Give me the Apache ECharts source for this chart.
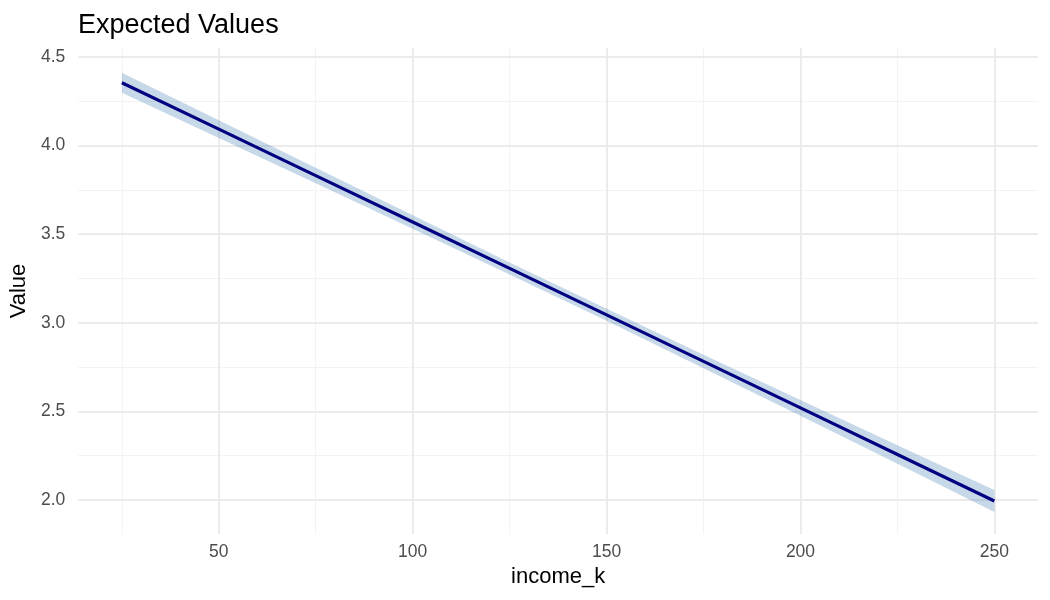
<!DOCTYPE html>
<html>
<head>
<meta charset="utf-8">
<script src="https://cdn.jsdelivr.net/npm/echarts@6/dist/echarts.min.js"></script>
<style>
  html, body { margin: 0; padding: 0; background: #fff; }
  #chart { width: 1050px; height: 600px; }
</style>
</head>
<body>
<div id="chart"></div>
<script>
// 数据
const incomeK = [25, 50, 75, 100, 125, 150, 175, 200, 225, 250];
const expected = [4.355, 4.093, 3.831, 3.569, 3.307, 3.045, 2.782, 2.520, 2.257, 1.994];
const lower = [4.298, 4.043, 3.787, 3.531, 3.273, 3.011, 2.744, 2.476, 2.205, 1.932];
const upper = [4.412, 4.143, 3.875, 3.607, 3.341, 3.079, 2.820, 2.564, 2.309, 2.056];

const xTicks = [50, 100, 150, 200, 250];
const xMinor = [25, 75, 125, 175, 225];
const yTicks = [2.0, 2.5, 3.0, 3.5, 4.0, 4.5];
const yMinor = [2.25, 2.75, 3.25, 3.75, 4.25];

const majorColor = '#ebebeb';
const minorColor = '#f3f3f3';

// 网格线
function gridLines() {
    const lines = [];
    xMinor.forEach(v => lines.push({ xAxis: v, lineStyle: { color: minorColor, width: 1, type: 'solid' } }));
    yMinor.forEach(v => lines.push({ yAxis: v, lineStyle: { color: minorColor, width: 1, type: 'solid' } }));
    xTicks.forEach(v => lines.push({ xAxis: v, lineStyle: { color: majorColor, width: 2, type: 'solid' } }));
    yTicks.forEach(v => lines.push({ yAxis: v, lineStyle: { color: majorColor, width: 2, type: 'solid' } }));
    return lines;
}

// 置信带多边形
function renderBand(params, api) {
    const pts = [];
    incomeK.forEach((x, i) => pts.push(api.coord([x, upper[i]])));
    for (let i = incomeK.length - 1; i >= 0; i--) {
        pts.push(api.coord([incomeK[i], lower[i]]));
    }
    return {
        type: 'polygon',
        shape: { points: pts },
        style: { fill: 'rgba(70,130,180,0.3)' }
    };
}

const chart = echarts.init(document.getElementById('chart'));

const option = {
    animation: false,
    title: {
        text: 'Expected Values',
        left: 73,
        top: 7,
        textStyle: { fontFamily: 'Liberation Sans', fontSize: 27, fontWeight: 'normal', color: '#000' }
    },
    grid: { left: 75, right: 12, top: 48, bottom: 66 },
    xAxis: {
        type: 'value',
        min: 13.75,
        max: 261.25,
        name: 'income_k',
        nameLocation: 'middle',
        nameGap: 32,
        nameTextStyle: { fontFamily: 'Liberation Sans', fontSize: 22, color: '#000' },
        axisLine: { show: false },
        axisTick: { show: false },
        splitLine: { show: false },
        axisLabel: {
            customValues: xTicks,
            fontFamily: 'Liberation Sans',
            fontSize: 17.5,
            color: '#4d4d4d',
            margin: 9
        }
    },
    yAxis: {
        type: 'value',
        min: 1.808,
        max: 4.551,
        name: 'Value',
        nameLocation: 'middle',
        nameRotate: 90,
        nameGap: 46,
        nameTextStyle: { fontFamily: 'Liberation Sans', fontSize: 22, color: '#000' },
        axisLine: { show: false },
        axisTick: { show: false },
        splitLine: { show: false },
        axisLabel: {
            customValues: yTicks,
            formatter: v => v.toFixed(1),
            fontFamily: 'Liberation Sans',
            fontSize: 17.5,
            color: '#4d4d4d',
            margin: 13
        }
    },
    series: [
        {
            name: 'grid',
            type: 'line',
            data: [],
            z: 0,
            silent: true,
            markLine: {
                silent: true,
                z: 0,
                symbol: 'none',
                label: { show: false },
                animation: false,
                data: gridLines()
            }
        },
        {
            name: 'band',
            type: 'custom',
            renderItem: renderBand,
            data: [0],
            z: 6,
            silent: true
        },
        {
            name: 'Expected',
            type: 'line',
            data: incomeK.map((x, i) => [x, expected[i]]),
            symbol: 'none',
            lineStyle: { color: '#000080', width: 3.2 },
            z: 7
        }
    ]
};

chart.setOption(option);
</script>
</body>
</html>
